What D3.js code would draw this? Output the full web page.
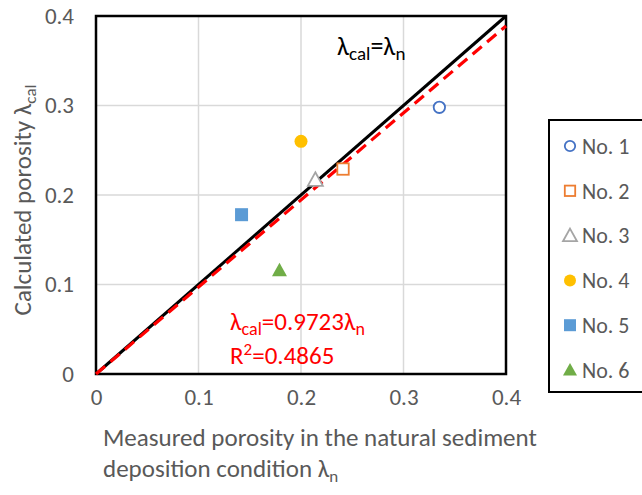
<!DOCTYPE html>
<html>
<head>
<meta charset="utf-8">
<script src="https://cdn.jsdelivr.net/npm/d3@7"></script>
<style>
  html, body { margin: 0; padding: 0; background: #fff; }
  svg { display: block; font-family: Carlito, Calibri, Lato, sans-serif; }
</style>
</head>
<body>
<svg id="chart" width="642" height="495"></svg>
<script>
// Sample ids, measured porosity (λn) and calculated porosity (λcal)
const samples = ["No. 1", "No. 2", "No. 3", "No. 4", "No. 5", "No. 6"];
const measured = [0.335, 0.241, 0.214, 0.200, 0.142, 0.179];
const calculated = [0.298, 0.229, 0.217, 0.260, 0.178, 0.116];
const symbols = ["circle", "square", "triangle", "circle", "square", "triangle"];
const filled = [false, false, false, true, true, true];
const colors = ["#4472C4", "#ED7D31", "#A5A5A5", "#FFC000", "#5B9BD5", "#70AD47"];

const ticks = [0, 0.1, 0.2, 0.3, 0.4];
const tickLabels = ["0", "0.1", "0.2", "0.3", "0.4"];
const fitSlope = 0.9723;
const fitR2 = 0.4865;

const FONT = "Carlito, Calibri, Lato, sans-serif";
const svg = d3.select("#chart");
const L = 96, R = 506, T = 16, B = 374;
const x = d3.scaleLinear().domain([0, 0.4]).range([L, R]);
const y = d3.scaleLinear().domain([0, 0.4]).range([B, T]);

// grid
const grid = svg.append("g").attr("stroke", "#D9D9D9").attr("stroke-width", 1.5);
ticks.slice(1, -1).forEach(t => {
  grid.append("line").attr("x1", x(t)).attr("x2", x(t)).attr("y1", T).attr("y2", B);
  grid.append("line").attr("x1", L).attr("x2", R).attr("y1", y(t)).attr("y2", y(t));
});

// axes (labels only)
const xAxis = d3.axisBottom(x).tickValues(ticks).tickSize(0).tickPadding(0)
  .tickFormat((d, i) => tickLabels[i]);
const gx = svg.append("g").attr("transform", `translate(0,${B + 23})`).call(xAxis);
const yAxis = d3.axisLeft(y).tickValues(ticks).tickSize(0).tickPadding(0)
  .tickFormat((d, i) => tickLabels[i]);
const gy = svg.append("g").attr("transform", `translate(${L - 22},0)`).call(yAxis);
[gx, gy].forEach(g => {
  g.attr("font-size", 23).attr("font-family", FONT);
  g.select(".domain").remove();
  g.selectAll("text").attr("fill", "#595959");
});
gx.selectAll("text").attr("dy", "0.35em");

// plot frame
svg.append("rect").attr("x", L).attr("y", T).attr("width", R - L).attr("height", B - T)
  .attr("fill", "none").attr("stroke", "#000").attr("stroke-width", 2.5);

// 1:1 line
svg.append("line")
  .attr("x1", x(0)).attr("y1", y(0)).attr("x2", x(0.4)).attr("y2", y(0.4))
  .attr("stroke", "#000").attr("stroke-width", 3);

// fitted line through origin
svg.append("line")
  .attr("x1", x(0)).attr("y1", y(0)).attr("x2", x(0.4)).attr("y2", y(0.4 * fitSlope))
  .attr("stroke", "#FF0000").attr("stroke-width", 3.2).attr("stroke-dasharray", "12,7");

// marker drawing
function drawMarker(g, kind, isFilled, color, cx, cy, s) {
  const fill = isFilled ? color : "#fff";
  if (kind === "circle") {
    g.append("circle").attr("cx", cx).attr("cy", cy).attr("r", s / 2 - (isFilled ? 0 : 0.8))
      .attr("fill", fill).attr("stroke", color).attr("stroke-width", isFilled ? 0 : 1.8);
  } else if (kind === "square") {
    const h = s / 2 - (isFilled ? 0 : 0.8);
    g.append("rect").attr("x", cx - h).attr("y", cy - h).attr("width", 2 * h).attr("height", 2 * h)
      .attr("fill", fill).attr("stroke", color).attr("stroke-width", isFilled ? 0 : 1.8);
  } else {
    const h = s / 2 + 1;
    const pts = [[cx, cy - h], [cx + h, cy + h * 0.8], [cx - h, cy + h * 0.8]];
    g.append("polygon").attr("points", pts.map(p => p.join(",")).join(" "))
      .attr("fill", fill).attr("stroke", color).attr("stroke-width", isFilled ? 0 : 1.8)
      .attr("stroke-linejoin", "miter");
  }
}

const pts = svg.append("g");
samples.forEach((s, i) => {
  drawMarker(pts, symbols[i], filled[i], colors[i], x(measured[i]), y(calculated[i]), 13);
});

// annotations
const ann = svg.append("text").attr("x", 337).attr("y", 55).attr("font-size", 26).attr("fill", "#000");
ann.append("tspan").text("λ");
ann.append("tspan").attr("font-size", 19).attr("dy", 5).text("cal");
ann.append("tspan").attr("dy", -5).text("=λ");
ann.append("tspan").attr("font-size", 19).attr("dy", 5).text("n");

const eq = svg.append("text").attr("x", 230).attr("y", 330).attr("font-size", 25).attr("fill", "#FF0000");
eq.append("tspan").text("λ");
eq.append("tspan").attr("font-size", 18).attr("dy", 5).text("cal");
eq.append("tspan").attr("dy", -5).text("=" + fitSlope + "λ");
eq.append("tspan").attr("font-size", 18).attr("dy", 5).text("n");

const r2 = svg.append("text").attr("x", 230).attr("y", 364).attr("font-size", 25).attr("fill", "#FF0000");
r2.append("tspan").text("R");
r2.append("tspan").attr("font-size", 17).attr("dy", -9).text("2");
r2.append("tspan").attr("dy", 9).text("=" + fitR2);

// axis titles
const xt = svg.append("text").attr("font-size", 25).attr("fill", "#595959");
xt.append("tspan").attr("x", 103).attr("y", 446).text("Measured porosity in the natural sediment");
xt.append("tspan").attr("x", 103).attr("y", 477).text("deposition condition λ");
xt.append("tspan").attr("font-size", 17).attr("dy", 5).text("n");

const yt = svg.append("text").attr("font-size", 25).attr("fill", "#595959")
  .attr("text-anchor", "middle").attr("transform", "translate(31,200) rotate(-90)");
yt.append("tspan").text("Calculated porosity λ");
yt.append("tspan").attr("font-size", 17).attr("dy", 5).text("cal");

// legend
svg.append("rect").attr("x", 549).attr("y", 120).attr("width", 100).attr("height", 272)
  .attr("fill", "#fff").attr("stroke", "#000").attr("stroke-width", 2);
const lg = svg.append("g");
samples.forEach((s, i) => {
  const ly = 146 + i * 44.8;
  drawMarker(lg, symbols[i], filled[i], colors[i], 570, ly, 12);
  lg.append("text").attr("x", 582).attr("y", ly).attr("dy", "0.35em")
    .attr("font-size", 22).attr("fill", "#595959").text(s);
});
</script>
</body>
</html>
